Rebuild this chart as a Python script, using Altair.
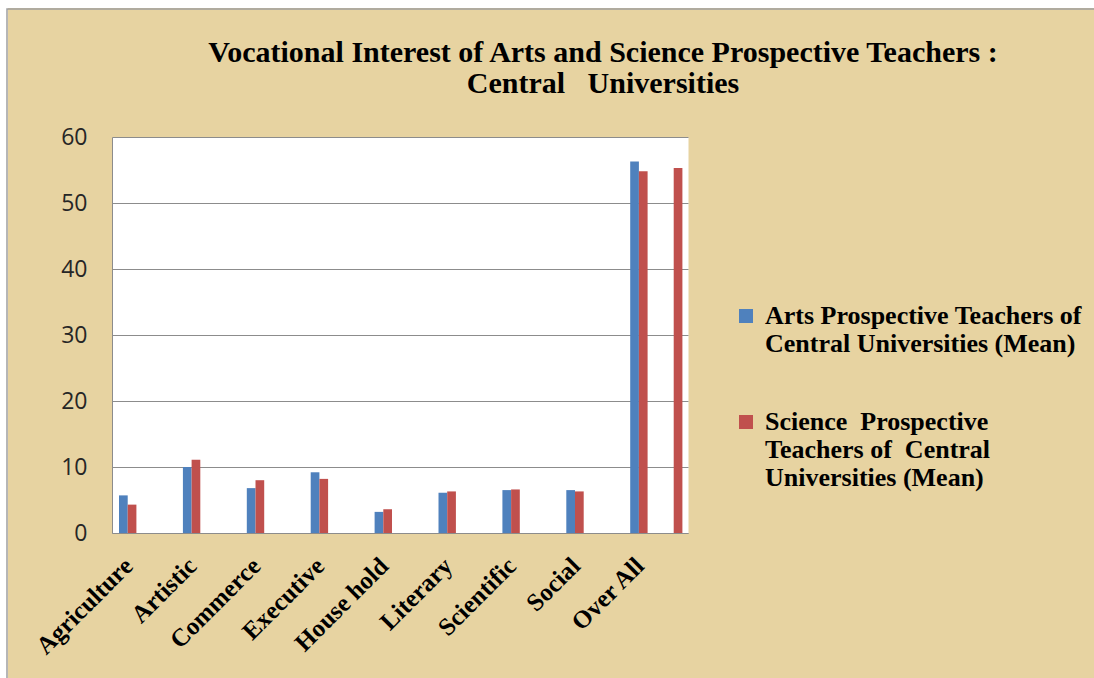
import json

import altair as alt
import pandas as pd

# ---- data -------------------------------------------------------------
categories = ["Agriculture", "Artistic", "Commerce", "Executive", "House hold",
              "Literary", "Scientific", "Social", "Over All"]
arts_mean = [5.7, 10.0, 6.8, 9.2, 3.2, 6.1, 6.5, 6.5, 56.3]
science_mean = [4.3, 11.1, 8.0, 8.2, 3.6, 6.3, 6.6, 6.3, 54.8]
# an additional Science bar drawn to the right of the "Over All" pair
science_over_all_extra = 55.3

series_names = ["Arts Prospective Teachers of Central Universities (Mean)",
                "Science Prospective Teachers of Central Universities (Mean)"]
legend_lines = [["Arts Prospective Teachers of", "Central Universities (Mean)"],
                ["Science\u00a0 Prospective", "Teachers of\u00a0 Central", "Universities (Mean)"]]
series_colors = ["#4F81BD", "#C0504D"]
y_ticks = [0, 10, 20, 30, 40, 50, 60]
title_lines = ["Vocational Interest of Arts and Science Prospective Teachers :",
               "Central \u00a0 Universities"]

# bar slots inside each category band (only the first two and the last are used)
slots = ["Arts", "Science", "pad1", "pad2", "pad3", "Extra"]

rows = []
for cat, a, s in zip(categories, arts_mean, science_mean):
    rows.append({"category": cat, "series": series_names[0], "slot": "Arts", "value": a})
    rows.append({"category": cat, "series": series_names[1], "slot": "Science", "value": s})
rows.append({"category": "Over All", "series": series_names[1], "slot": "Extra",
             "value": science_over_all_extra})
df = pd.DataFrame(rows)

legend_expr = (f"datum.label == {json.dumps(series_names[0])} ? "
               f"{json.dumps(legend_lines[0], ensure_ascii=False)} : "
               f"{json.dumps(legend_lines[1], ensure_ascii=False)}")

GRID = "#8c8c8c"
SERIF = "Liberation Serif"

bars = alt.Chart(df).mark_bar().encode(
    x=alt.X(
        "category:N",
        sort=categories,
        scale=alt.Scale(domain=categories, paddingInner=0.1831, paddingOuter=0.0986,
                        align=0.556, round=False),
        axis=alt.Axis(title=None, labelAngle=-45, labelAlign="right", labelBaseline="top",
                      labelFont=SERIF, labelFontWeight="bold", labelFontSize=25,
                      labelColor="black", labelPadding=20, labelOffset=-25, labelLimit=0,
                      ticks=False, grid=False, domainColor=GRID, labelOverlap=False),
    ),
    xOffset=alt.XOffset("slot:N", scale=alt.Scale(domain=slots, paddingInner=0, paddingOuter=0)),
    y=alt.Y(
        "value:Q",
        scale=alt.Scale(domain=[0, 60], nice=False, zero=True),
        axis=alt.Axis(title=None, values=y_ticks, ticks=False, labelPadding=25,
                      labelFont="Open Sans", labelFontSize=23, labelColor="#262626",
                      gridColor=GRID, domainColor=GRID),
    ),
    color=alt.Color(
        "series:N",
        scale=alt.Scale(domain=series_names, range=series_colors),
        legend=alt.Legend(title=None, orient="none", legendX=621, legendY=166,
                          labelExpr=legend_expr, labelFont=SERIF, labelFontWeight="bold",
                          labelFontSize=26, labelColor="black", labelLimit=0,
                          labelBaseline="middle", labelOffset=6, symbolType="square",
                          symbolSize=196, symbolStrokeWidth=0, rowPadding=52,
                          padding=0, offset=0),
    ),
)

# white margin and thin grey frame around the parchment panel
frame_white = alt.Chart(alt.Data(values=[{}])).mark_rect(
    filled=False, stroke="white", strokeWidth=16
).encode(x=alt.value(-112), x2=alt.value(1010), y=alt.value(-137), y2=alt.value(580))

frame_border = alt.Chart(alt.Data(values=[{}])).mark_rect(
    filled=False, stroke="#9e9e9e", strokeWidth=1.5
).encode(x=alt.value(-105), x2=alt.value(1010), y=alt.value(-128), y2=alt.value(580))

# the frame marks reach up to the canvas edge, so the title offset is
# measured from there (negative offset brings it back down over the panel)
chart = alt.layer(bars, frame_white, frame_border).properties(
    width=576,
    height=396,
    padding={"left": 112, "top": 137, "right": 406, "bottom": 145},
    autosize=alt.AutoSizeParams(type="none"),
    background="#E7D3A1",
    title=alt.TitleParams(text=title_lines, font=SERIF, fontWeight="bold", fontSize=30,
                          color="black", anchor="middle", frame="group", dx=203,
                          offset=-107, lineHeight=31),
).configure_view(fill="white", stroke="transparent")

chart.save("out.html", embed_options={"renderer": "svg", "actions": False})
